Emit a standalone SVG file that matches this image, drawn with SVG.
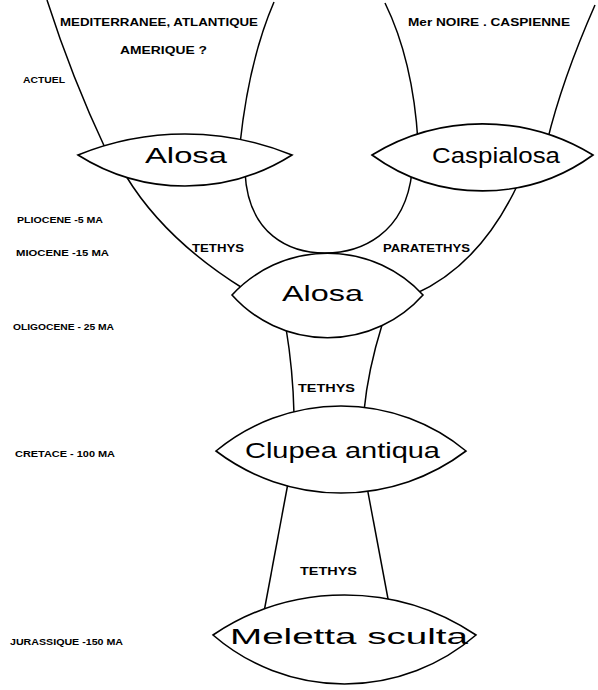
<svg xmlns="http://www.w3.org/2000/svg" width="598" height="690" viewBox="0 0 598 690">
<style>
.lens{fill:#fff;stroke:#000;stroke-width:1.6}
.con{fill:none;stroke:#000;stroke-width:1.5}
.big{font-family:"Liberation Sans",Arial,sans-serif;font-size:22px;fill:#000}
.lab{font-family:"Liberation Sans",Arial,sans-serif;font-size:11px;font-weight:bold;fill:#000}
.age{font-family:"Liberation Sans",Arial,sans-serif;font-size:8.5px;font-weight:bold;fill:#000}
</style>
<rect width="598" height="690" fill="#fff"/>
<g id="connectors">
<path class="con" d="M47,0 Q72,78 106,150"/>
<path class="con" d="M274,2 Q249,60 240,144"/>
<path class="con" d="M385,3 Q413,60 418,142"/>
<path class="con" d="M595,5 Q562,80 547,142"/>
<path class="con" d="M126,176 Q165,240 244,289"/>
<path class="con" d="M245,172 C248,235 290,253 325,253 C360,253 405,235 412,172"/>
<path class="con" d="M518,184 Q480,265 415,294"/>
<path class="con" d="M286,328 Q293,370 294,414"/>
<path class="con" d="M382,325 Q368,370 364,411"/>
<path class="con" d="M288,483 L264,612"/>
<path class="con" d="M367,487 L389,604"/>
</g>
<g id="top-labels">
<text class="lab" x="60" y="26" textLength="198" lengthAdjust="spacingAndGlyphs">MEDITERRANEE, ATLANTIQUE</text>
<text class="lab" x="120" y="54" textLength="87" lengthAdjust="spacingAndGlyphs">AMERIQUE ?</text>
<text class="lab" x="408" y="26" textLength="162" lengthAdjust="spacingAndGlyphs">Mer NOIRE . CASPIENNE</text>
<text class="lab" x="192" y="252" textLength="52" lengthAdjust="spacingAndGlyphs">TETHYS</text>
<text class="lab" x="383" y="252" textLength="87" lengthAdjust="spacingAndGlyphs">PARATETHYS</text>
<text class="lab" x="298" y="392" textLength="57" lengthAdjust="spacingAndGlyphs">TETHYS</text>
<text class="lab" x="300" y="575" textLength="57" lengthAdjust="spacingAndGlyphs">TETHYS</text>
</g>
<g id="ages">
<text class="age" x="23" y="83" textLength="42" lengthAdjust="spacingAndGlyphs">ACTUEL</text>
<text class="age" x="17" y="223" textLength="86" lengthAdjust="spacingAndGlyphs">PLIOCENE -5 MA</text>
<text class="age" x="16" y="256" textLength="93" lengthAdjust="spacingAndGlyphs">MIOCENE  -15 MA</text>
<text class="age" x="13" y="330" textLength="101" lengthAdjust="spacingAndGlyphs">OLIGOCENE - 25 MA</text>
<text class="age" x="15" y="457" textLength="100" lengthAdjust="spacingAndGlyphs">CRETACE   - 100 MA</text>
<text class="age" x="10" y="645" textLength="113" lengthAdjust="spacingAndGlyphs">JURASSIQUE -150 MA</text>
</g>
<g id="alosa-actuel">
<path class="lens" d="M78,155 A283,283 0 0 1 292,155 A200,200 0 0 1 78,155 Z"/>
<text class="big" x="145" y="163" textLength="82" lengthAdjust="spacingAndGlyphs">Alosa</text>
</g>
<g id="caspialosa">
<path class="lens" d="M372,155 A212,212 0 0 1 593,155 A188,188 0 0 1 372,155 Z"/>
<text class="big" x="432" y="163" font-size="21" textLength="128" lengthAdjust="spacingAndGlyphs">Caspialosa</text>
</g>
<g id="alosa-oligocene">
<path class="lens" d="M232,295 A130,130 0 0 1 423,295 A128,128 0 0 1 232,295 Z"/>
<text class="big" x="282" y="301" textLength="81" lengthAdjust="spacingAndGlyphs">Alosa</text>
</g>
<g id="clupea-antiqua">
<path class="lens" d="M216,451 A196,196 0 0 1 466,451 A207,207 0 0 1 216,451 Z"/>
<text class="big" x="245" y="458" textLength="195" lengthAdjust="spacingAndGlyphs">Clupea antiqua</text>
</g>
<g id="meletta-sculta">
<path class="lens" d="M213,635 A236,236 0 0 1 476,635 A201,201 0 0 1 213,635 Z"/>
<text class="big" x="230" y="644" font-size="24" textLength="238" lengthAdjust="spacingAndGlyphs">Meletta sculta</text>
</g>
</svg>
